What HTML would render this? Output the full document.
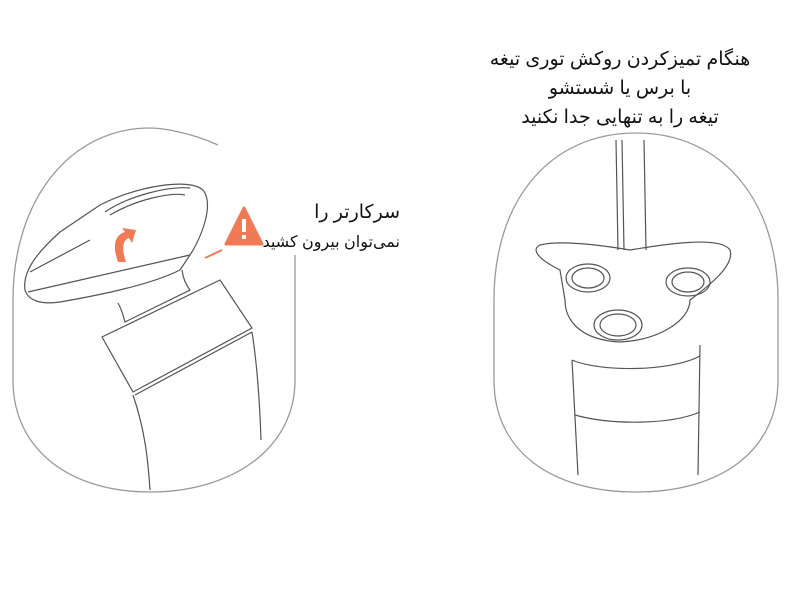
<!DOCTYPE html>
<html><head><meta charset="utf-8"><style>
html,body{margin:0;padding:0;background:#fff;width:800px;height:600px;overflow:hidden}
svg{position:absolute;left:0;top:0}
.t{position:absolute;font-family:"Liberation Sans","DejaVu Sans",sans-serif;font-size:19px;color:#111;direction:rtl;white-space:nowrap;line-height:29px}
</style></head><body>
<svg width="800" height="600" viewBox="0 0 800 600">
<g fill="none" stroke="#999" stroke-width="1.3">
<path d="M218 145 C190 132 160 128 150 128 C70 128 13 200 13 300 L13 380 C13 450 70 492 150 492 C230 492 295 450 295 380 L295 255"/>
<path d="M494 300 C494 200 550 133 636 133 C722 133 778 200 778 300 L778 380 C778 450 722 492 636 492 C550 492 494 450 494 380 Z"/>
</g>
<g fill="none" stroke="#555" stroke-width="1.2">
<path d="M25 290 C22 270 40 250 60 232 L100 205 C140 185 190 178 203 190 C215 205 200 240 190 255 L180 270 C150 285 100 295 60 302 C40 305 28 300 25 290 Z"/>
<path d="M28 292 L190 255"/>
<path d="M105 212 C130 195 170 186 190 188"/>
<path d="M110 215 C135 200 170 192 185 195"/>
<path d="M30 272 L90 240"/>
<path d="M118 303 C122 310 124 318 125 322 L190 290 C186 285 183 278 182 270"/>
<path d="M102 337 L220 280 L252 328 L133 392 Z"/>
<path d="M135 395 L252 332"/>
<path d="M252 332 C258 370 260 410 261 440"/>
<path d="M133 395 C145 430 148 460 150 490"/>
<path d="M560 270 C540 260 530 250 540 245 C560 240 600 245 630 250 C660 245 720 235 730 250 C735 265 710 285 690 300 C690 320 660 340 620 342 C580 340 565 320 565 300 Z"/>
<ellipse cx="588" cy="278" rx="22" ry="14"/><ellipse cx="588" cy="278" rx="16" ry="10"/>
<ellipse cx="688" cy="282" rx="22" ry="14"/><ellipse cx="688" cy="282" rx="16" ry="10"/>
<ellipse cx="618" cy="325" rx="24" ry="15"/><ellipse cx="618" cy="325" rx="18" ry="11"/>
<path d="M572 360 C600 372 670 372 700 356"/>
<path d="M572 360 L578 475"/>
<path d="M700 345 L698 475"/>
<path d="M575 415 C610 425 670 425 700 412"/>
<path d="M616 140 L618 250 M622 140 L624 250 M644 140 L646 250"/>
</g>
<path d="M118 262 C112 245 115 235 125 232 L122 228 L136 230 L132 243 L129 238 C122 240 122 250 126 262 Z" fill="#f07a55"/>
<path d="M244 208 L262 244 L226 244 Z" fill="#f07a55" stroke="#f07a55" stroke-width="3" stroke-linejoin="round"/>
<rect x="242" y="219" width="4" height="13" fill="#fff"/><rect x="242" y="235" width="4" height="4" fill="#fff"/>
<path d="M222 250 L205 258" stroke="#f07a55" stroke-width="2"/>
</svg>
<div class="t" style="right:400px;top:198px;text-align:right">سرکارتر را</div>
<div class="t" style="right:400px;top:228px;text-align:right;font-size:16px;letter-spacing:-0.3px">نمی‌توان بیرون کشید</div>
<div class="t" style="left:470px;width:300px;top:45px;text-align:center">هنگام تمیزکردن روکش توری تیغه<br>با برس یا شستشو<br>تیغه را به تنهایی جدا نکنید</div>
</body></html>
